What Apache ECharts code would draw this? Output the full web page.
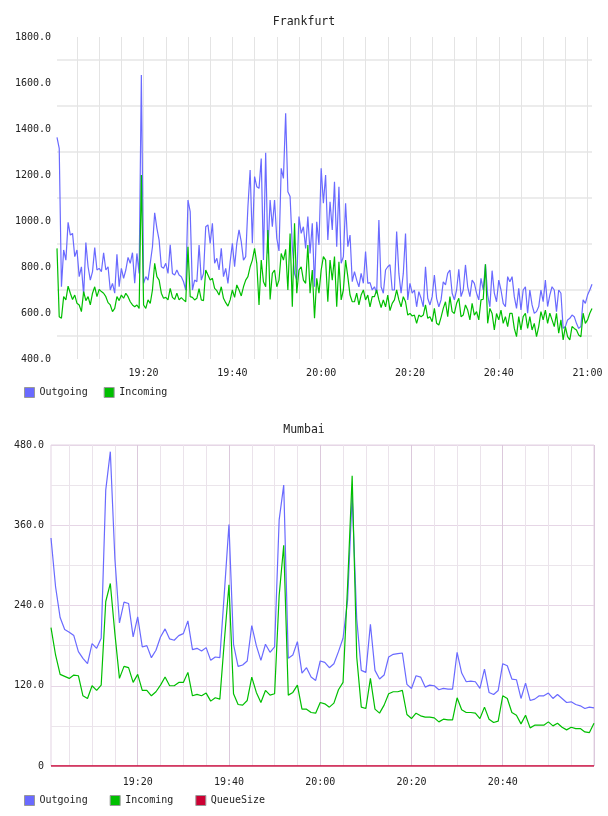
<!DOCTYPE html>
<html>
<head>
<meta charset="utf-8">
<title>Frankfurt / Mumbai</title>
<script src="https://cdn.jsdelivr.net/npm/echarts@6/dist/echarts.min.js"></script>
<style>
html, body { margin: 0; padding: 0; background: #fff; }
#chart { width: 608px; height: 816px; }
</style>
</head>
<body>
<div id="chart"></div>
<script>
// Frankfurt: one sample every 30 s
var frankStart = "19:00:30";
var frankStepSec = 30;
var frankTickLabels = ["19:20", "19:40", "20:00", "20:20", "20:40", "21:00"];
var frankOutgoing = [
    1364, 1316, 714, 874, 830, 994, 939, 946, 845, 874,
    758, 801, 678, 906, 801, 743, 780, 884, 787, 794,
    780, 862, 787, 801, 700, 729, 686, 855, 714, 794,
    751, 787, 842, 816, 862, 729, 859, 772, 1635, 729,
    758, 743, 816, 888, 1036, 968, 917, 801, 795, 816,
    772, 896, 772, 765, 787, 765, 758, 736, 700, 1091,
    1041, 700, 743, 736, 896, 743, 772, 975, 983, 903,
    990, 816, 838, 787, 881, 758, 794, 729, 823, 903,
    801, 903, 961, 910, 830, 845, 1062, 1222, 903, 1193,
    1149, 1142, 1272, 830, 1297, 859, 1091, 975, 1091, 925,
    870, 1229, 1185, 1468, 1127, 1106, 888, 772, 743, 1019,
    946, 975, 881, 1019, 859, 990, 714, 997, 896, 1229,
    1077, 1200, 917, 1084, 961, 1171, 888, 1149, 816, 845,
    1077, 888, 939, 736, 780, 743, 714, 772, 729, 867,
    729, 732, 700, 714, 686, 1004, 714, 686, 787, 801,
    810, 700, 700, 954, 772, 686, 772, 946, 657, 729,
    686, 700, 627, 693, 664, 627, 801, 664, 635, 671,
    765, 664, 627, 657, 736, 722, 772, 787, 686, 657,
    700, 790, 671, 700, 809, 714, 671, 743, 729, 686,
    657, 751, 700, 812, 678, 627, 784, 686, 649, 743,
    700, 642, 627, 758, 736, 758, 671, 620, 707, 613,
    700, 714, 599, 700, 635, 599, 606, 628, 700, 649,
    743, 628, 678, 714, 700, 606, 700, 686, 533, 541,
    570, 577, 591, 584, 555, 533, 541, 657, 642, 678,
    700, 725
];
var frankIncoming = [
    881, 584, 577, 671, 657, 717, 686, 659, 678, 642,
    635, 606, 693, 654, 671, 635, 686, 714, 671, 703,
    693, 686, 671, 645, 635, 606, 620, 671, 654, 678,
    664, 686, 671, 649, 635, 627, 635, 620, 1200, 635,
    620, 657, 642, 700, 816, 758, 743, 686, 664, 668,
    657, 707, 668, 659, 686, 657, 667, 657, 649, 888,
    671, 668, 657, 664, 706, 657, 654, 787, 765, 743,
    751, 707, 697, 678, 714, 664, 645, 630, 657, 700,
    668, 722, 700, 674, 714, 743, 758, 801, 830, 881,
    816, 635, 830, 736, 714, 961, 659, 772, 787, 714,
    743, 859, 830, 877, 700, 946, 627, 990, 686, 787,
    801, 743, 729, 896, 686, 787, 577, 751, 686, 787,
    845, 830, 649, 830, 743, 845, 627, 823, 657, 700,
    830, 758, 678, 649, 649, 686, 635, 678, 700, 657,
    678, 627, 671, 671, 700, 657, 624, 657, 627, 678,
    610, 642, 657, 700, 657, 627, 671, 649, 591, 598,
    587, 591, 555, 591, 584, 591, 635, 577, 584, 562,
    620, 555, 548, 581, 620, 649, 584, 671, 606, 598,
    642, 664, 584, 591, 635, 613, 570, 642, 591, 606,
    570, 657, 660, 812, 555, 620, 598, 526, 598, 570,
    613, 555, 584, 541, 598, 599, 533, 497, 584, 526,
    584, 599, 533, 584, 526, 555, 497, 541, 606, 570,
    613, 555, 599, 570, 541, 599, 512, 570, 483, 541,
    497, 483, 541, 533, 526, 504, 497, 599, 555, 570,
    599, 620
];

// Mumbai: one sample per minute
var mumbaiStart = "19:01:00";
var mumbaiStepSec = 60;
var mumbaiTickLabels = ["19:20", "19:40", "20:00", "20:20", "20:40"];
var mumbaiOutgoing = [
    341, 268, 222, 204, 200, 195, 171, 161, 153, 183,
    176, 191, 413, 470, 310, 214, 245, 243, 193, 223,
    178, 180, 162, 173, 193, 205, 190, 188, 195, 198,
    217, 174, 176, 172, 177, 158, 163, 162, 260, 361,
    182, 149, 151, 157, 210, 180, 158, 182, 170, 178,
    368, 420, 161, 166, 186, 139, 147, 133, 128, 157,
    155, 147, 153, 171, 191, 248, 405, 220, 143, 140,
    212, 143, 130, 136, 163, 167, 168, 169, 122, 116,
    135, 133, 118, 121, 120, 114, 116, 115, 115, 170,
    139, 126, 127, 126, 116, 145, 110, 107, 113, 153,
    150, 130, 129, 101, 124, 98, 100, 105, 105, 109,
    101, 107, 101, 95, 96, 92, 90, 86, 88, 87
];
var mumbaiIncoming = [
    207, 166, 137, 134, 131, 136, 135, 105, 101, 120,
    113, 121, 246, 273, 198, 131, 149, 147, 125, 137,
    113, 113, 105, 111, 121, 133, 120, 120, 125, 125,
    140, 105, 107, 105, 109, 97, 102, 100, 188, 271,
    108, 92, 91, 98, 133, 110, 95, 113, 106, 108,
    255, 330, 106, 110, 121, 85, 85, 80, 79, 95,
    93, 88, 94, 114, 125, 270, 434, 163, 88, 86,
    131, 85, 79, 91, 108, 111, 111, 113, 77, 71,
    79, 75, 73, 73, 72, 66, 70, 69, 69, 102,
    84, 80, 80, 79, 71, 88, 70, 65, 67, 105,
    101, 80, 76, 63, 76, 57, 61, 61, 61, 66,
    60, 64, 58, 54, 58, 56, 56, 51, 50, 64
];
var mumbaiQueueSize = [
    0, 0, 0, 0, 0, 0, 0, 0, 0, 0,
    0, 0, 0, 0, 0, 0, 0, 0, 0, 0,
    0, 0, 0, 0, 0, 0, 0, 0, 0, 0,
    0, 0, 0, 0, 0, 0, 0, 0, 0, 0,
    0, 0, 0, 0, 0, 0, 0, 0, 0, 0,
    0, 0, 0, 0, 0, 0, 0, 0, 0, 0,
    0, 0, 0, 0, 0, 0, 0, 0, 0, 0,
    0, 0, 0, 0, 0, 0, 0, 0, 0, 0,
    0, 0, 0, 0, 0, 0, 0, 0, 0, 0,
    0, 0, 0, 0, 0, 0, 0, 0, 0, 0,
    0, 0, 0, 0, 0, 0, 0, 0, 0, 0,
    0, 0, 0, 0, 0, 0, 0, 0, 0, 0
];

var FONT = "DejaVu Sans Mono";
var BLUE = "#6a6aff";
var GREEN = "#00bf00";
var RED = "#cc0033";

function pad(n) {
    return n < 10 ? "0" + n : "" + n;
}
// "HH:MM:SS" labels for each sample
function makeTimes(start, step, count) {
    var p = start.split(":");
    var s0 = +p[0] * 3600 + +p[1] * 60 + +p[2];
    var out = [];
    for (var i = 0; i < count; i++) {
        var s = s0 + i * step;
        out.push(pad(Math.floor(s / 3600)) + ":" + pad(Math.floor(s / 60) % 60) + ":" + pad(s % 60));
    }
    return out;
}
// true when the time falls on a whole multiple of `min` minutes
function onMinutes(value, min) {
    var p = value.split(":");
    return p[2] === "00" && (+p[1]) % min === 0;
}

var frankTimes = makeTimes(frankStart, frankStepSec, frankOutgoing.length);
var mumbaiTimes = makeTimes(mumbaiStart, mumbaiStepSec, mumbaiOutgoing.length);

var labelStyle = { fontFamily: FONT, fontSize: 10, color: "#222" };
var titleStyle = { fontFamily: FONT, fontSize: 11.5, fontWeight: "normal", color: "#222" };

var chart = echarts.init(document.getElementById("chart"), null, { renderer: "canvas" });
var option = {
    animation: false,
    backgroundColor: "#fff",
    textStyle: { fontFamily: FONT },
    title: [
        { text: "Frankfurt", left: "center", top: 11, textStyle: titleStyle },
        { text: "Mumbai", left: "center", top: 419, textStyle: titleStyle }
    ],
    legend: [
        {
            data: ["Outgoing", "Incoming"],
            left: 19, top: 382, icon: "rect", itemWidth: 10, itemHeight: 10, itemGap: 16,
            itemStyle: { borderColor: "#999", borderWidth: 1 },
            textStyle: labelStyle
        },
        {
            data: ["Outgoing", "Incoming", "QueueSize"],
            left: 19, top: 790, icon: "rect", itemWidth: 10, itemHeight: 10, itemGap: 22,
            itemStyle: { borderColor: "#999", borderWidth: 1 },
            textStyle: labelStyle
        }
    ],
    grid: [
        { left: 57, top: 37, width: 535, height: 322 },
        { left: 51, top: 445, width: 543, height: 321, show: true, borderColor: "#e3d3e3", borderWidth: 1 }
    ],
    xAxis: [
        {
            gridIndex: 0, type: "category", data: frankTimes, boundaryGap: false,
            axisLine: { show: false }, axisTick: { show: false },
            axisLabel: Object.assign({
                interval: function (i, v) { return frankTickLabels.indexOf(v.slice(0, 5)) >= 0 && v.slice(6) === "00"; },
                formatter: function (v) { return v.slice(0, 5); },
                margin: 9
            }, labelStyle),
            splitLine: { show: true, interval: function (i, v) { return onMinutes(v, 5); }, lineStyle: { color: "#e4e4e4", width: 1 } }
        },
        {
            gridIndex: 1, type: "category", data: mumbaiTimes, boundaryGap: false,
            axisLine: { show: false }, axisTick: { show: false },
            axisLabel: Object.assign({
                interval: function (i, v) { return mumbaiTickLabels.indexOf(v.slice(0, 5)) >= 0 && v.slice(6) === "00"; },
                formatter: function (v) { return v.slice(0, 5); },
                margin: 11
            }, labelStyle),
            splitLine: { show: true, interval: function (i, v) { return onMinutes(v, 20); }, lineStyle: { color: "#dcc9dc", width: 1 } },
            z: 3
        },
        {
            // helper axis: the lighter 5 minute lines of Mumbai
            gridIndex: 1, type: "category", data: mumbaiTimes, boundaryGap: false, position: "top",
            axisLine: { show: false }, axisTick: { show: false }, axisLabel: { show: false },
            splitLine: { show: true, interval: function (i, v) { return onMinutes(v, 5) && !onMinutes(v, 20); }, lineStyle: { color: "#ebe3eb", width: 1 } }
        }
    ],
    yAxis: [
        {
            gridIndex: 0, type: "value", min: 400, max: 1800, interval: 200,
            axisLine: { show: false }, axisTick: { show: false },
            axisLabel: Object.assign({ formatter: function (v) { return v.toFixed(1); }, margin: 6 }, labelStyle),
            splitLine: { show: false },
            minorTick: { show: false, splitNumber: 2 },
            minorSplitLine: { show: true, lineStyle: { color: "#ececec", width: 2 } }
        },
        {
            gridIndex: 1, type: "value", min: 0, max: 480, interval: 120,
            axisLine: { show: false }, axisTick: { show: false },
            axisLabel: Object.assign({ formatter: function (v) { return v === 0 ? "0" : v.toFixed(1); }, margin: 7 }, labelStyle),
            splitLine: { show: true, lineStyle: { color: "#e6d6e6", width: 1 } },
            minorTick: { show: false, splitNumber: 2 },
            minorSplitLine: { show: true, lineStyle: { color: "#ebe5eb", width: 1 } }
        }
    ],
    series: [
        { name: "Outgoing", type: "line", xAxisIndex: 0, yAxisIndex: 0, data: frankOutgoing, symbol: "none", color: BLUE, lineStyle: { width: 1.2 } },
        { name: "Incoming", type: "line", xAxisIndex: 0, yAxisIndex: 0, data: frankIncoming, symbol: "none", color: GREEN, lineStyle: { width: 1.2 } },
        { name: "Outgoing", type: "line", xAxisIndex: 1, yAxisIndex: 1, data: mumbaiOutgoing, symbol: "none", color: BLUE, lineStyle: { width: 1.2 } },
        { name: "Incoming", type: "line", xAxisIndex: 1, yAxisIndex: 1, data: mumbaiIncoming, symbol: "none", color: GREEN, lineStyle: { width: 1.2 } },
        { name: "QueueSize", type: "line", xAxisIndex: 1, yAxisIndex: 1, data: mumbaiQueueSize, symbol: "none", color: RED, lineStyle: { width: 1.5 } }
    ]
};
chart.setOption(option);
</script>
</body>
</html>
